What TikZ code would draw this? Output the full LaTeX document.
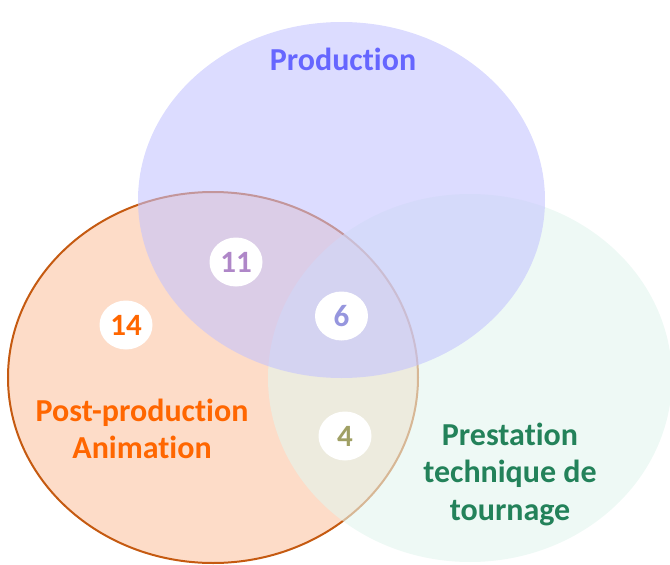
\documentclass[tikz,border=0pt]{standalone}
\usepackage{fontspec}
\setmainfont{Carlito}[Ligatures={NoCommon}]
\usetikzlibrary{shapes.geometric}
\definecolor{orfill}{RGB}{253,220,200}
\definecolor{orline}{RGB}{197,90,17}
\definecolor{blfill}{RGB}{195,195,255}
\definecolor{grfill}{RGB}{227,245,238}
\definecolor{prodtxt}{RGB}{102,102,255}
\definecolor{posttxt}{RGB}{255,102,0}
\definecolor{prestxt}{RGB}{35,130,90}
\definecolor{n11}{RGB}{175,135,200}
\definecolor{n6}{RGB}{150,150,222}
\definecolor{n4}{RGB}{160,160,100}
\begin{document}
\begin{tikzpicture}[x=1pt,y=-1pt,
  lbl/.style={font=\fontsize{32}{37.5}\selectfont\bfseries, align=center, inner sep=0pt},
  numbox/.style={ellipse, fill=white, minimum width=53pt, minimum height=49pt, inner sep=0pt, font=\fontsize{31}{34}\selectfont\bfseries}]
\useasboundingbox (0,0) rectangle (670,565);
\clip (0,0) rectangle (670,565);
% circles
\path[fill=orfill] (213,377.5) ellipse [x radius=205, y radius=185.5];
\draw[orline, line width=2pt] (213,377.5) ellipse [x radius=205, y radius=185.5];
\path[fill=grfill, fill opacity=0.6] (470,378) ellipse [x radius=202, y radius=184];
\path[fill=blfill, fill opacity=0.58] (341.5,200) ellipse [x radius=203.5, y radius=178];
% labels
\node[lbl, text=prodtxt] (prod) at (343,59) {Production};
\node[lbl, text=posttxt] (post) at (142,429) {Post-production\\Animation};
\node[lbl, text=prestxt] (pres) at (510,474) {Prestation\\technique de\\tournage};
% numbers
\node[numbox, text=n11] (c11) at (236,262) {11};
\node[numbox, text=posttxt] (c14) at (126,325) {14};
\node[numbox, text=n6] (c6) at (341.5,316) {6};
\node[numbox, text=n4] (c4) at (345,436) {4};
\end{tikzpicture}
\end{document}
